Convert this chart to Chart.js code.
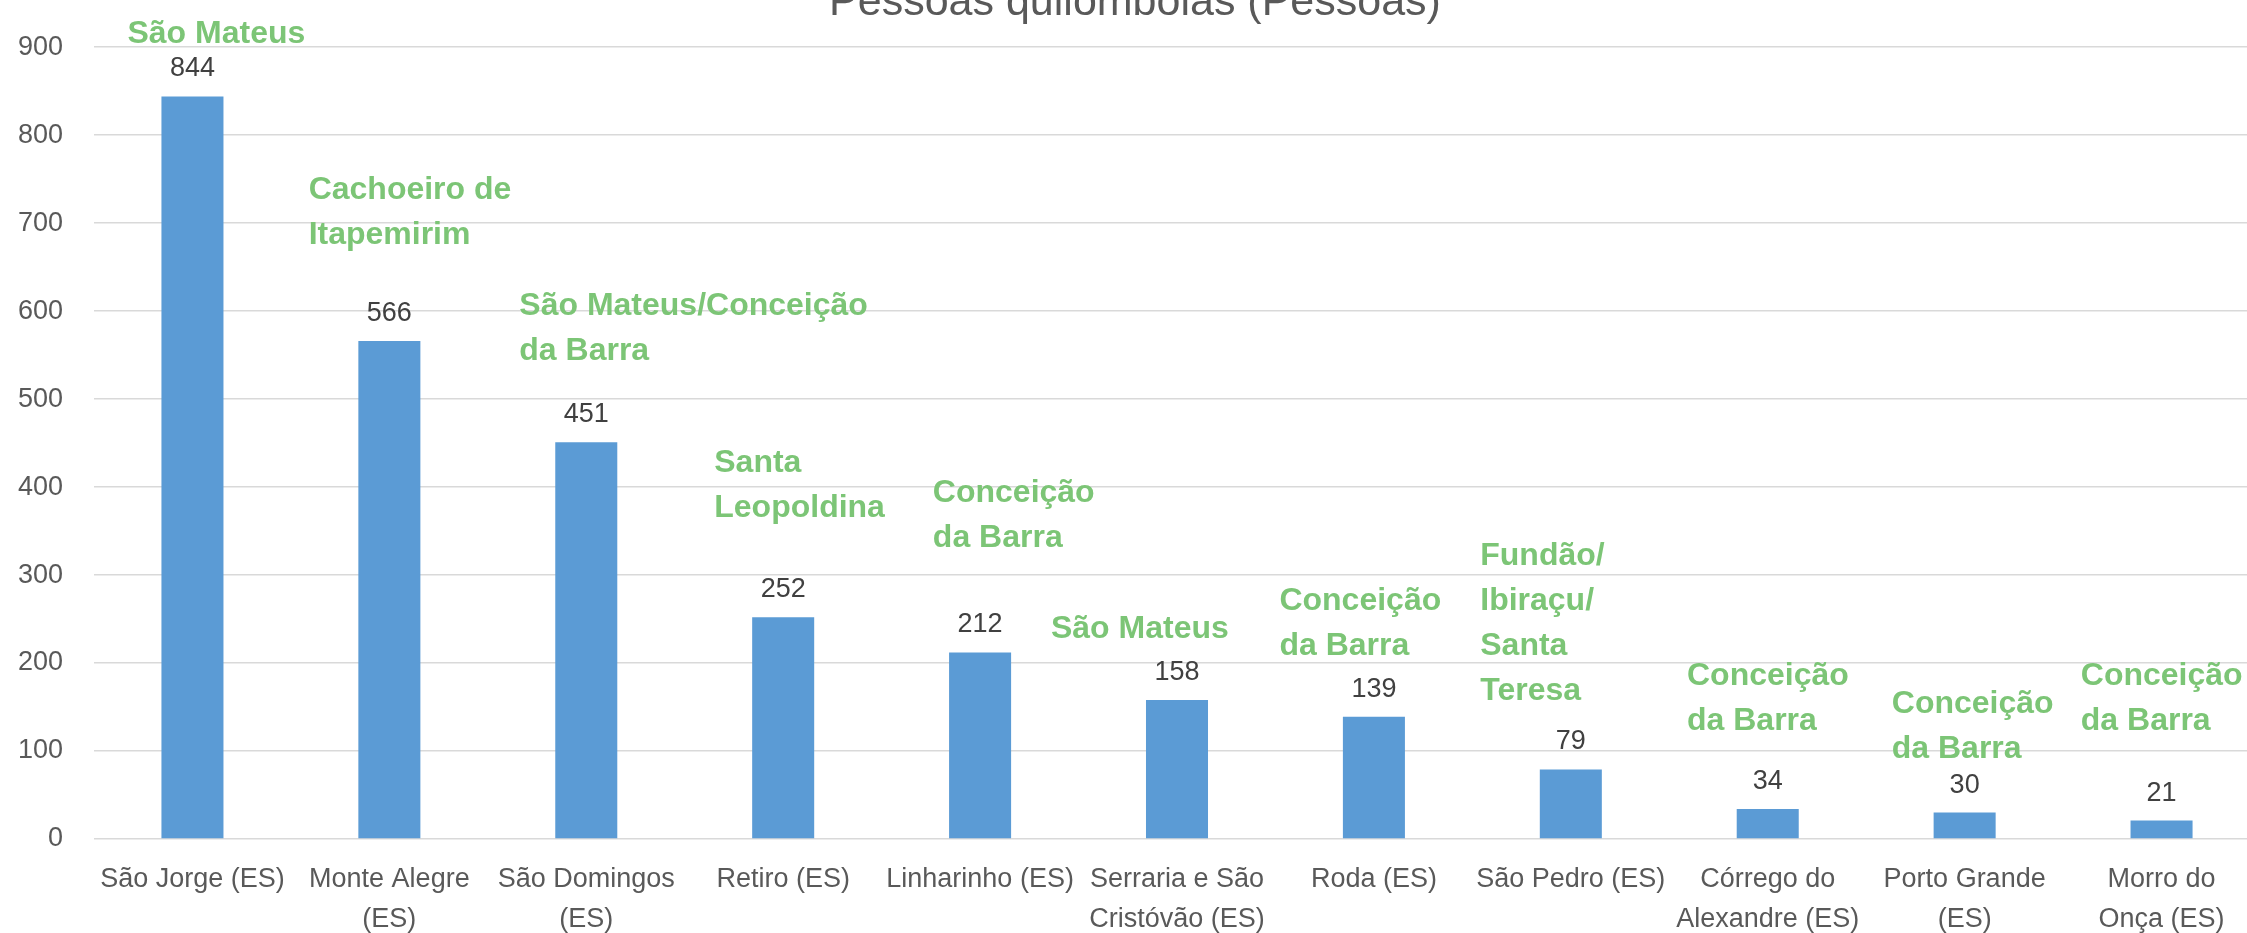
<!DOCTYPE html>
<html>
<head>
<meta charset="utf-8">
<title>Pessoas quilombolas</title>
<style>
    html, body { margin: 0; padding: 0; background: #fff; overflow: hidden; }
    #wrap { position: relative; width: 2260px; height: 937px; }
</style>
<script src="https://cdn.jsdelivr.net/npm/chart.js@4/dist/chart.umd.min.js"></script>
</head>
<body>
<div id="wrap"><canvas id="chart"></canvas></div>
<script>
// comunidades (eixo X)
const comunidades = [
    'São Jorge (ES)',
    ['Monte Alegre', '(ES)'],
    ['São Domingos', '(ES)'],
    'Retiro (ES)',
    'Linharinho (ES)',
    ['Serraria e São', 'Cristóvão (ES)'],
    'Roda (ES)',
    'São Pedro (ES)',
    ['Córrego do', 'Alexandre (ES)'],
    ['Porto Grande', '(ES)'],
    ['Morro do', 'Onça (ES)']
];
const pessoas = [844, 566, 451, 252, 212, 158, 139, 79, 34, 30, 21];
const yTicks  = [0, 100, 200, 300, 400, 500, 600, 700, 800, 900];

// municípios escritos sobre as barras
const municipios = [
    ['São Mateus'],
    ['Cachoeiro de', 'Itapemirim'],
    ['São Mateus/Conceição', 'da Barra'],
    ['Santa', 'Leopoldina'],
    ['Conceição', 'da Barra'],
    ['São Mateus'],
    ['Conceição', 'da Barra'],
    ['Fundão/', 'Ibiraçu/', 'Santa', 'Teresa'],
    ['Conceição', 'da Barra'],
    ['Conceição', 'da Barra'],
    ['Conceição', 'da Barra']
];
// onde começa cada texto (x em índice de categoria, y em pessoas)
const notaX = [-0.33, 0.59, 1.66, 2.65, 3.76, 4.36, 5.52, 6.54, 7.59, 8.63, 9.59];
const notaY = [905, 728, 596, 417, 383, 229, 260, 311, 175, 143, 175];

const FONT = '"Liberation Sans", Arial, sans-serif';

const valores = {
    id: 'valores',
    afterDatasetsDraw(chart) {
        const ctx = chart.ctx;
        const meta = chart.getDatasetMeta(0);
        ctx.save();
        ctx.font = `27px ${FONT}`;
        ctx.fillStyle = '#404040';
        ctx.textAlign = 'center';
        ctx.textBaseline = 'alphabetic';
        meta.data.forEach((bar, i) => {
            ctx.fillText(String(pessoas[i]), bar.x, bar.y - 20);
        });
        ctx.restore();
    }
};

const notas = {
    id: 'notas',
    afterDraw(chart) {
        const ctx = chart.ctx;
        const sx = chart.scales.x, sy = chart.scales.y;
        ctx.save();
        ctx.font = `bold 32px ${FONT}`;
        ctx.fillStyle = '#7CC576';
        ctx.textAlign = 'left';
        ctx.textBaseline = 'alphabetic';
        municipios.forEach((linhas, i) => {
            const x = sx.getPixelForValue(notaX[i]);
            const y = sy.getPixelForValue(notaY[i]);
            linhas.forEach((t, j) => ctx.fillText(t, x, y + j * 45));
        });
        // título (cortado no topo, como no original)
        ctx.font = `43px ${FONT}`;
        ctx.fillStyle = '#595959';
        ctx.textAlign = 'center';
        ctx.fillText('Pessoas quilombolas (Pessoas)', 1135, 15);
        ctx.restore();
    }
};

new Chart(document.getElementById('chart'), {
    type: 'bar',
    data: {
        labels: comunidades,
        datasets: [{
            data: pessoas,
            backgroundColor: '#5B9BD5',
            borderWidth: 0,
            barPercentage: 0.315,
            categoryPercentage: 1
        }]
    },
    options: {
        responsive: true,
        maintainAspectRatio: false,
        animation: false,
        layout: { padding: { top: 43, left: 0, right: 0, bottom: 0 } },
        plugins: { legend: { display: false }, tooltip: { enabled: false } },
        scales: {
            x: {
                grid: { display: false },
                border: { display: false },
                ticks: {
                    color: '#595959',
                    font: { family: FONT, size: 27, lineHeight: 1.5 },
                    padding: 12,
                    maxRotation: 0,
                    autoSkip: false
                },
                afterFit: (s) => { s.height = 98; }
            },
            y: {
                min: 0,
                max: 900,
                afterBuildTicks: (s) => { s.ticks = yTicks.map(v => ({ value: v })); },
                grid: { color: '#D9D9D9', lineWidth: 1.5, drawTicks: false },
                border: { display: false },
                ticks: {
                    color: '#595959',
                    font: { family: FONT, size: 27 },
                    padding: 31
                },
                afterFit: (s) => { s.width = 94; }
            }
        }
    },
    plugins: [valores, notas]
});
</script>
</body>
</html>
